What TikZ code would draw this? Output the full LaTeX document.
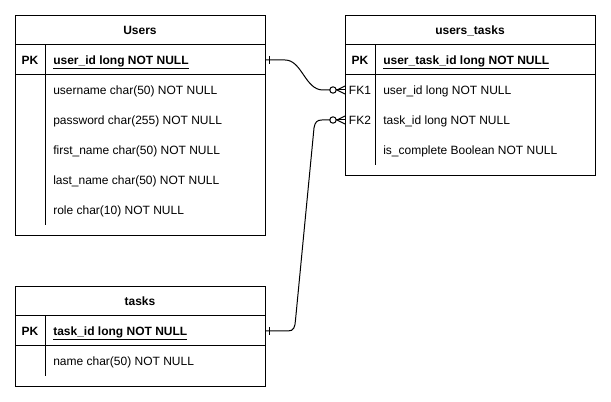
\documentclass[tikz,border=0pt]{standalone}
\usepackage{fontspec}
\setmainfont{Liberation Sans}
\usetikzlibrary{calc}
\begin{document}
\begin{tikzpicture}[x=0.75pt,y=-0.75pt,
  tbl/.style={draw, line width=0.75pt, inner sep=0pt, anchor=north west},
  fld/.style={font=\fontsize{9}{11}\selectfont, anchor=base west, inner sep=0pt},
  pkfld/.style={font=\fontsize{9}{11}\selectfont\bfseries, anchor=base west, inner sep=0pt},
  keylbl/.style={font=\fontsize{9}{11}\selectfont\bfseries, anchor=base, inner sep=0pt},
  fklbl/.style={font=\fontsize{9}{11}\selectfont, anchor=base, inner sep=0pt},
  ttl/.style={font=\fontsize{9}{11}\selectfont\bfseries, anchor=base, inner sep=0pt},
  sep/.style={line width=0.75pt},
  conn/.style={line width=0.75pt}]
\useasboundingbox (0,0) rectangle (611,402);
\fill[white] (0,0) rectangle (611,402);

% ---------- Users ----------
\node[tbl, minimum width=187.5pt, minimum height=165pt] (users) at (15,15) {};
\draw[sep] (15,45) -- (265,45);
\draw[sep] (15,75) -- (265,75);
\draw[sep] (45,45) -- (45,225);
\node[ttl] (users-t) at (140,34.3) {Users};
\node[keylbl] (users-pk) at (30,64.3) {PK};
\node[pkfld] (users-id) at (53,64.3) {\underline{user\_id long NOT NULL}};
\node[fld] (users-f1) at (53,94.3) {username char(50) NOT NULL};
\node[fld] (users-f2) at (53,124.3) {password char(255) NOT NULL};
\node[fld] (users-f3) at (53,154.3) {first\_name char(50) NOT NULL};
\node[fld] (users-f4) at (53,184.3) {last\_name char(50) NOT NULL};
\node[fld] (users-f5) at (53,214.3) {role char(10) NOT NULL};

% ---------- users_tasks ----------
\node[tbl, minimum width=187.5pt, minimum height=120pt] (ut) at (345,15) {};
\draw[sep] (345,45) -- (595,45);
\draw[sep] (345,75) -- (595,75);
\draw[sep] (375,45) -- (375,165);
\node[ttl] (ut-t) at (470,34.3) {users\_tasks};
\node[keylbl] (ut-pk) at (360,64.3) {PK};
\node[pkfld] (ut-id) at (383,64.3) {\underline{user\_task\_id long NOT NULL}};
\node[fklbl] (ut-fk1) at (360,94.3) {FK1};
\node[fld] (ut-f1) at (383,94.3) {user\_id long NOT NULL};
\node[fklbl] (ut-fk2) at (360,124.3) {FK2};
\node[fld] (ut-f2) at (383,124.3) {task\_id long NOT NULL};
\node[fld] (ut-f3) at (383,154.3) {is\_complete Boolean NOT NULL};

% ---------- tasks ----------
\node[tbl, minimum width=187.5pt, minimum height=75pt] (tasks) at (15,286) {};
\draw[sep] (15,316) -- (265,316);
\draw[sep] (15,346) -- (265,346);
\draw[sep] (45,316) -- (45,376);
\node[ttl] (tasks-t) at (140,305.3) {tasks};
\node[keylbl] (tasks-pk) at (30,335.3) {PK};
\node[pkfld] (tasks-id) at (53,335.3) {\underline{task\_id long NOT NULL}};
\node[fld] (tasks-f1) at (53,365.3) {name char(50) NOT NULL};

% ---------- connectors ----------
\coordinate (a1) at (265,60);
\coordinate (b1) at (345,90);
\coordinate (a2) at (265,331);
\coordinate (b2) at (345,120);

% Users.user_id  --  users_tasks.FK1
\draw[conn] (a1) -- ($(a1)+(20,0)$)
  .. controls ($(a1)+(37,0)$) and ($(b1)+(-40,0)$) .. ($(b1)+(-22,0)$)
  -- ($(b1)+(-15,0)$);
\draw[conn] ($(a1)+(4,-4)$) -- ($(a1)+(4,4)$);
\draw[conn] ($(b1)+(-12,0)$) circle[radius=2.4pt];
\draw[conn] ($(b1)+(-9,0)$) -- (b1);
\draw[conn] ($(b1)+(0,-4)$) -- ($(b1)+(-8,0)$) -- ($(b1)+(0,4)$);

% tasks.task_id  --  users_tasks.FK2
\draw[conn] (a2) -- ($(a2)+(23,0)$)
  .. controls ($(a2)+(29,0)$) and ($(a2)+(30,-4)$) .. ($(a2)+(30.5,-11)$)
  -- ($(b2)+(-31,8)$)
  .. controls ($(b2)+(-30,2)$) and ($(b2)+(-28,0)$) .. ($(b2)+(-23,0)$)
  -- ($(b2)+(-15,0)$);
\draw[conn] ($(a2)+(4,-4)$) -- ($(a2)+(4,4)$);
\draw[conn] ($(b2)+(-12,0)$) circle[radius=2.4pt];
\draw[conn] ($(b2)+(-9,0)$) -- (b2);
\draw[conn] ($(b2)+(0,-4)$) -- ($(b2)+(-8,0)$) -- ($(b2)+(0,4)$);
\end{tikzpicture}
\end{document}
